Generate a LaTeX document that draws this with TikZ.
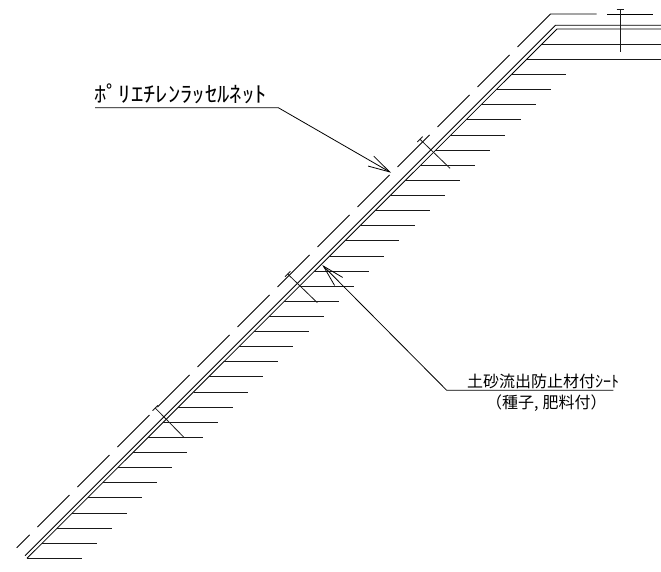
\documentclass[tikz,border=0pt]{standalone}
\usepackage{fontspec}
\usetikzlibrary{arrows.meta}
\newfontfamily\cjk{Noto Sans CJK JP}
\newfontfamily\cjkwide[FakeStretch=1.12]{Noto Sans CJK JP}
\tikzset{
  slope/.style={line width=0.8pt,black},
  hatch/.style={line width=0.8pt,black!90},
  leader/.style={line width=0.8pt,black,-{Straight Barb[length=21.6pt,width=11.4pt]}},
  label/.style={inner sep=0pt,anchor=base west},
}
\begin{document}
\begin{tikzpicture}[x=1pt,y=-1pt]
      \useasboundingbox (0,0) rectangle (661,572) ;
      \draw[slope] (25,555.7)--(555.5,25.3)--(661,25.3) ;
      \draw[slope] (27,558.3)--(557,29)--(661,29) ;
      \foreach \k in {0,...,32}
        \draw[hatch] ({27+15.14*\k},{558.3-15.12*\k})--++(54.5,0) ;
      \draw[hatch] (526.7,59.3)--(661,59.3) ;
      \draw[hatch] (541.7,44.3)--(661,44.3) ;
      \draw[slope] (16.7,547.8)--(29.7,534.8) ;
      \foreach \k in {0,...,11}
        \draw[slope] ({37.5+40*\k},{527-40*\k})--++(32,-32) ;
      \draw[slope] (517.5,47)--(550.5,14)--(596.7,14) ;
      \draw[slope] (607.3,14)--(652.7,14) ;
      \foreach \a/\b/\c/\d in {155.2/408/184.3/437.7,287.7/274/317.3/302.7,420/139.3/450/168.3}{
        \draw[hatch] (\a,\b)--(\c,\d) ;
        \draw[hatch] (\a-2.7,\b+2.7)--(\a+2.7,\b-2.7) ;
      }
      \draw[hatch] (620.3,9.3)--(620.3,51.7) ;
      \draw[hatch] (616.7,9.3)--(624.3,9.3) ;
      \node[label,font=\cjkwide\fontsize{22}{22}\selectfont] (netText) at (94,102.5) {ﾎﾟﾘｴﾁﾚﾝﾗｯｾﾙﾈｯﾄ} ;
      \coordinate (netA) at (95,107.7) ;
      \coordinate (netB) at (278.3,107.7) ;
      \coordinate (netTip) at (391,172.7) ;
      \draw[leader] (netA)--(netB)--(netTip) ;
      \node[label,font=\cjk\fontsize{16}{16}\selectfont] (sheetText) at (467,387) {土砂流出防止材付ｼｰﾄ} ;
      \node[label,font=\cjk\fontsize{16}{16}\selectfont] (seedText) at (486,408) {（種子,\hspace{4pt}肥料付）} ;
      \coordinate (sheetA) at (613.3,390.3) ;
      \coordinate (sheetB) at (446.7,390.3) ;
      \coordinate (sheetTip) at (322.3,265) ;
      \draw[leader] (sheetA)--(sheetB)--(sheetTip) ;
    \end{tikzpicture}
\end{document}
